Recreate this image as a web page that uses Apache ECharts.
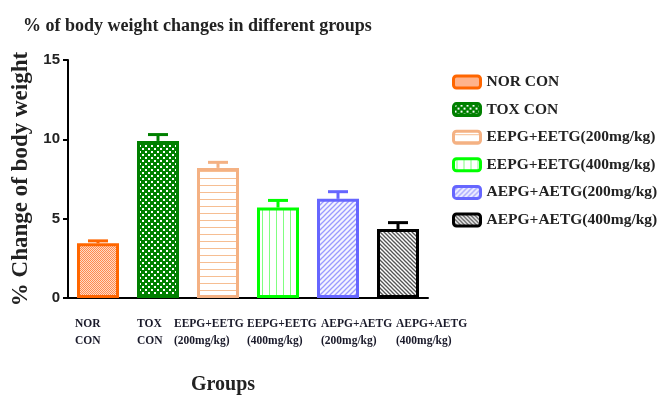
<!DOCTYPE html>
<html>
<head>
<meta charset="utf-8">
<script src="https://cdn.jsdelivr.net/npm/echarts@6/dist/echarts.min.js"></script>
<style>
  html, body { margin: 0; padding: 0; background: #fff; }
  #chart { width: 660px; height: 395px; }
</style>
</head>
<body>
<div id="chart"></div>
<script>
// Groups, mean % change of body weight and SEM
const groups = ['NOR CON', 'TOX CON', 'EEPG+EETG(200mg/kg)', 'EEPG+EETG(400mg/kg)', 'AEPG+AETG(200mg/kg)', 'AEPG+AETG(400mg/kg)'];
const tickLabels = ['NOR\nCON', 'TOX\nCON', 'EEPG+EETG\n(200mg/kg)', 'EEPG+EETG\n(400mg/kg)', 'AEPG+AETG\n(200mg/kg)', 'AEPG+AETG\n(400mg/kg)'];
const meanChange = [3.45, 9.9, 8.2, 5.7, 6.25, 4.35];
const semChange = [0.15, 0.4, 0.35, 0.45, 0.45, 0.4];
const yTicks = [0, 5, 10, 15];

// Styling per group
const edgeColors = ['#FF6600', '#008000', '#F4B183', '#00FF00', '#6666FF', '#000000'];
const labelShift = [21, 23, 0, 13, 27, 42];

function tile(w, h, draw) {
  const c = document.createElement('canvas');
  c.width = w; c.height = h;
  const g = c.getContext('2d');
  draw(g, w, h);
  return { image: c, repeat: 'repeat' };
}
function diag(g, n, color, bg, dir) {
  g.fillStyle = bg; g.fillRect(0, 0, n, n);
  g.strokeStyle = color; g.lineWidth = 1.3;
  const segs = dir > 0
    ? [[0, n, n, 0], [-n, n, n, -n], [0, 2 * n, 2 * n, 0]]
    : [[0, 0, n, n], [-n, 0, n, 2 * n], [0, -n, 2 * n, n]];
  segs.forEach(s => { g.beginPath(); g.moveTo(s[0], s[1]); g.lineTo(s[2], s[3]); g.stroke(); });
}
const fills = [
  tile(2, 2, g => { g.fillStyle = '#FFDCC6'; g.fillRect(0, 0, 2, 2); g.fillStyle = '#FF8A50'; g.fillRect(0, 0, 1, 1); g.fillRect(1, 1, 1, 1); }),
  tile(6, 6, g => { g.fillStyle = '#008000'; g.fillRect(0, 0, 6, 6); g.fillStyle = '#FFFFFF'; g.fillRect(1, 1, 2, 2); g.fillRect(4, 4, 2, 2); }),
  tile(1, 7, g => { g.fillStyle = '#FFFFFF'; g.fillRect(0, 0, 1, 7); g.fillStyle = '#F6BE92'; g.fillRect(0, 3, 1, 1); }),
  tile(7, 1, g => { g.fillStyle = '#FFFFFF'; g.fillRect(0, 0, 7, 1); g.fillStyle = '#80FF80'; g.fillRect(3, 0, 1, 1); }),
  tile(5, 5, g => diag(g, 5, '#9A9AFF', '#F4F4FF', 1)),
  tile(4, 4, g => diag(g, 4, '#555555', '#FFFFFF', -1))
];

const serif = '"Liberation Serif", "DejaVu Serif", serif';
const sans = '"Liberation Sans", Arial, sans-serif';

const barSeries = groups.map((name, i) => ({
  name: name,
  type: 'bar',
  xAxisIndex: 0,
  yAxisIndex: 0,
  barWidth: 42,
  barGap: '-100%',
  data: meanChange.map((v, j) => (j === i ? v : '-')),
  itemStyle: { color: fills[i], borderColor: edgeColors[i], borderWidth: 3 },
  emphasis: { disabled: true },
  z: 2
}));

const errorSeries = {
  type: 'custom',
  xAxisIndex: 0,
  yAxisIndex: 0,
  data: meanChange.map((m, i) => [i, m, semChange[i]]),
  encode: { x: 0, y: 1 },
  z: 1,
  renderItem: function (params, api) {
    const i = api.value(0), m = api.value(1), e = api.value(2);
    const base = api.coord([i, m]);
    const top = api.coord([i, m + e]);
    const col = edgeColors[params.dataIndex];
    return {
      type: 'group',
      children: [
        { type: 'line', shape: { x1: base[0], y1: base[1], x2: top[0], y2: top[1] }, style: { stroke: col, lineWidth: 3 } },
        { type: 'line', shape: { x1: top[0] - 10, y1: top[1], x2: top[0] + 10, y2: top[1] }, style: { stroke: col, lineWidth: 3 } }
      ]
    };
  }
};

const rich = {};
labelShift.forEach((p, i) => {
  rich['l' + i] = { fontFamily: serif, fontWeight: 'bold', fontSize: 11.5, color: '#1a1a2a', lineHeight: 17, padding: [0, 0, 0, p] };
});

const chart = echarts.init(document.getElementById('chart'), null, { renderer: 'canvas' });
chart.setOption({
  animation: false,
  backgroundColor: '#ffffff',
  title: {
    text: '% of body weight changes in different groups',
    left: 18, top: 12,
    textStyle: { fontFamily: serif, fontWeight: 'bold', fontSize: 18, color: '#222' }
  },
  legend: {
    orient: 'vertical',
    left: 447, top: 69,
    itemWidth: 27, itemHeight: 12,
    itemGap: 11.6,
    data: groups,
    selectedMode: false,
    itemStyle: { borderWidth: 3 },
    textStyle: { fontFamily: serif, fontWeight: 'bold', fontSize: 15.5, color: '#222', lineHeight: 16, padding: [0, 0, 0, 1] }
  },
  grid: [
    { left: 68, right: 232, top: 60, bottom: 97, outerBoundsMode: 'none' },
    { left: 24, right: 276, top: 60, bottom: 97, outerBoundsMode: 'none' }
  ],
  xAxis: [
    {
      type: 'category', gridIndex: 0, data: groups,
      name: 'Groups', nameLocation: 'middle', nameGap: 77,
      nameTextStyle: { fontFamily: serif, fontWeight: 'bold', fontSize: 20, color: '#222', padding: [0, 50, 0, 0] },
      axisLine: { lineStyle: { color: '#000', width: 2 } },
      axisTick: { alignWithLabel: true, length: 5, lineStyle: { color: '#000', width: 2 } },
      axisLabel: { show: false }
    },
    {
      type: 'category', gridIndex: 1, data: tickLabels,
      axisLine: { show: false }, axisTick: { show: false },
      axisLabel: {
        align: 'left', margin: 18, interval: 0,
        formatter: (v, i) => v.split('\n').map(s => '{l' + i + '|' + s + '}').join('\n'),
        rich: rich
      }
    }
  ],
  yAxis: [
    {
      type: 'value', gridIndex: 0, min: yTicks[0], max: yTicks[yTicks.length - 1], interval: 5,
      name: '% Change of body weight', nameLocation: 'middle', nameGap: 34,
      nameTextStyle: { fontFamily: serif, fontWeight: 'bold', fontSize: 23, color: '#222' },
      axisLine: { show: true, lineStyle: { color: '#000', width: 2 } },
      axisTick: { show: true, length: 5, lineStyle: { color: '#000', width: 2 } },
      axisLabel: { margin: 8, fontFamily: sans, fontWeight: 'bold', fontSize: 15, color: '#222' },
      splitLine: { show: false }
    },
    { type: 'value', gridIndex: 1, show: false, min: 0, max: 15 }
  ],
  series: barSeries.concat([errorSeries])
});
</script>
</body>
</html>
